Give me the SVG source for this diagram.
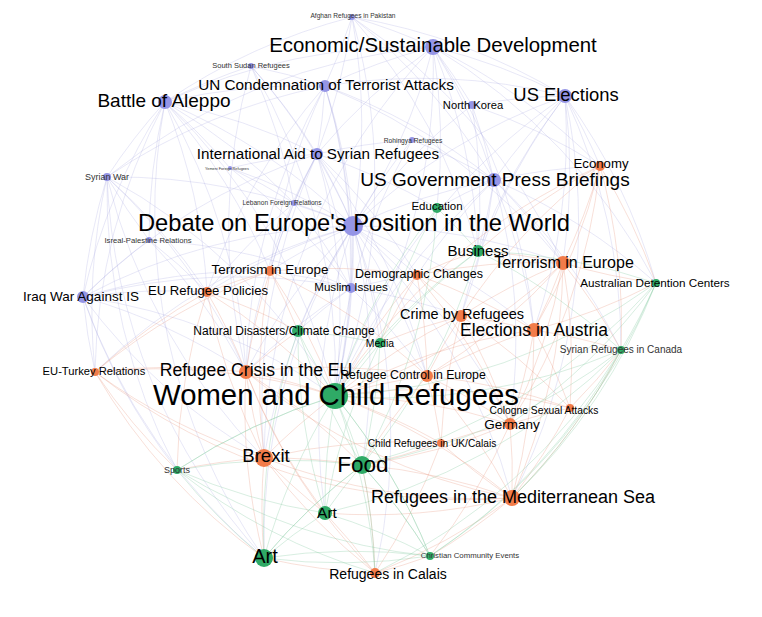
<svg xmlns="http://www.w3.org/2000/svg" width="762" height="617" viewBox="0 0 762 617">
<style>
text{font-family:"Liberation Sans",Arial,sans-serif;fill:#000;text-anchor:middle}
text.s{fill:#333}
.p{fill:#9595e6}
.o{fill:#f27c4a}
.g{fill:#2faa66}
#edges path{fill:none;stroke-width:0.6}
#ep path{stroke:#a8a8e2;stroke-opacity:0.45}
#eo path{stroke:#e8967e;stroke-opacity:0.5}
#eg path{stroke:#86cca2;stroke-opacity:0.55}
</style>
<rect width="762" height="617" fill="#fff"/>
<g id="edges">
<g id="ep">
<path d="M352 17A600 600 0 0 1 433 47"/><path d="M352 17A600 600 0 0 1 325 86"/><path d="M352 17A600 600 0 0 1 317 154"/><path d="M352 17A600 600 0 0 1 353 226"/><path d="M352 17A600 600 0 0 1 565 96"/><path d="M352 17A600 600 0 0 0 165 102"/><path d="M352 17A600 600 0 0 1 335 396"/><path d="M352 17A600 600 0 0 1 563 263"/><path d="M352 17A600 600 0 0 1 494 180"/><path d="M352 17A600 600 0 0 1 478 251"/>
<path d="M433 47A600 600 0 0 0 325 86"/><path d="M433 47A600 600 0 0 1 472 105"/><path d="M433 47A600 600 0 0 1 565 96"/><path d="M433 47A600 600 0 0 1 494 180"/><path d="M433 47A600 600 0 0 1 353 226"/><path d="M433 47A600 600 0 0 0 317 154"/><path d="M433 47A600 600 0 0 1 600 166"/><path d="M433 47A600 600 0 0 1 437 208"/><path d="M433 47A600 600 0 0 1 478 251"/><path d="M433 47A600 600 0 0 1 335 396"/><path d="M433 47A600 600 0 0 1 534 330"/><path d="M433 47A600 600 0 0 1 656 283"/><path d="M433 47A600 600 0 0 0 165 102"/><path d="M433 47A600 600 0 0 0 107 177"/><path d="M433 47A600 600 0 0 0 264 458"/>
<path d="M251 66A600 600 0 0 1 325 86"/><path d="M251 66A600 600 0 0 0 165 102"/><path d="M251 66A600 600 0 0 1 317 154"/><path d="M251 66A600 600 0 0 1 353 226"/><path d="M251 66A600 600 0 0 1 335 396"/><path d="M251 66A600 600 0 0 0 246 372"/><path d="M251 66A600 600 0 0 1 294 203"/>
<path d="M325 86A600 600 0 0 0 165 102"/><path d="M325 86A600 600 0 0 1 317 154"/><path d="M325 86A600 600 0 0 1 353 226"/><path d="M325 86A600 600 0 0 1 494 180"/><path d="M325 86A600 600 0 0 1 565 96"/><path d="M325 86A600 600 0 0 0 270 271"/><path d="M325 86A600 600 0 0 1 563 263"/><path d="M325 86A600 600 0 0 1 351 288"/><path d="M325 86A600 600 0 0 1 335 396"/><path d="M325 86A600 600 0 0 0 246 372"/><path d="M325 86A600 600 0 0 0 107 177"/><path d="M325 86A600 600 0 0 0 207 292"/>
<path d="M165 102A600 600 0 0 1 317 154"/><path d="M165 102A600 600 0 0 0 107 177"/><path d="M165 102A600 600 0 0 1 353 226"/><path d="M165 102A600 600 0 0 0 83 297"/><path d="M165 102A600 600 0 0 0 149 240"/><path d="M165 102A600 600 0 0 1 207 292"/><path d="M165 102A600 600 0 0 1 246 372"/><path d="M165 102A600 600 0 0 1 335 396"/><path d="M165 102A600 600 0 0 1 230 168"/><path d="M165 102A600 600 0 0 1 294 203"/><path d="M165 102A600 600 0 0 1 270 271"/><path d="M165 102A600 600 0 0 0 95 372"/><path d="M165 102A600 600 0 0 0 264 558"/>
<path d="M472 105A600 600 0 0 1 565 96"/><path d="M472 105A600 600 0 0 1 494 180"/><path d="M472 105A600 600 0 0 0 353 226"/><path d="M472 105A600 600 0 0 1 600 166"/><path d="M472 105A600 600 0 0 1 478 251"/>
<path d="M565 96A600 600 0 0 0 494 180"/><path d="M565 96A600 600 0 0 1 600 166"/><path d="M565 96A600 600 0 0 0 353 226"/><path d="M565 96A600 600 0 0 0 478 251"/><path d="M565 96A600 600 0 0 1 563 263"/><path d="M565 96A600 600 0 0 1 534 330"/><path d="M565 96A600 600 0 0 1 656 283"/><path d="M565 96A600 600 0 0 0 335 396"/><path d="M565 96A600 600 0 0 0 461 316"/><path d="M565 96A600 600 0 0 1 621 350"/><path d="M565 96A600 600 0 0 1 512 498"/>
<path d="M412 140A600 600 0 0 0 317 154"/><path d="M412 140A600 600 0 0 0 353 226"/><path d="M412 140A600 600 0 0 1 494 180"/><path d="M412 140A600 600 0 0 0 335 396"/>
<path d="M317 154A600 600 0 0 1 353 226"/><path d="M317 154A600 600 0 0 0 294 203"/><path d="M317 154A600 600 0 0 0 230 168"/><path d="M317 154A600 600 0 0 1 351 288"/><path d="M317 154A600 600 0 0 0 270 271"/><path d="M317 154A600 600 0 0 0 246 372"/><path d="M317 154A600 600 0 0 1 335 396"/><path d="M317 154A600 600 0 0 1 417 275"/><path d="M317 154A600 600 0 0 1 437 208"/><path d="M317 154A600 600 0 0 1 427 376"/><path d="M317 154A600 600 0 0 0 264 458"/><path d="M317 154A600 600 0 0 0 83 297"/>
<path d="M107 177A600 600 0 0 0 83 297"/><path d="M107 177A600 600 0 0 0 149 240"/><path d="M107 177A600 600 0 0 1 353 226"/><path d="M107 177A600 600 0 0 1 207 292"/><path d="M107 177A600 600 0 0 1 246 372"/><path d="M107 177A600 600 0 0 0 95 372"/><path d="M107 177A600 600 0 0 1 335 396"/><path d="M107 177A600 600 0 0 0 177 470"/><path d="M107 177A600 600 0 0 0 264 558"/><path d="M107 177A600 600 0 0 0 264 458"/>
<path d="M230 168A600 600 0 0 1 353 226"/><path d="M230 168A600 600 0 0 1 294 203"/><path d="M230 168A600 600 0 0 1 351 288"/>
<path d="M494 180A600 600 0 0 0 353 226"/><path d="M494 180A600 600 0 0 1 600 166"/><path d="M494 180A600 600 0 0 0 437 208"/><path d="M494 180A600 600 0 0 1 478 251"/><path d="M494 180A600 600 0 0 1 563 263"/><path d="M494 180A600 600 0 0 1 534 330"/><path d="M494 180A600 600 0 0 1 461 316"/><path d="M494 180A600 600 0 0 0 335 396"/><path d="M494 180A600 600 0 0 0 417 275"/><path d="M494 180A600 600 0 0 1 656 283"/><path d="M494 180A600 600 0 0 1 510 424"/><path d="M494 180A600 600 0 0 1 621 350"/>
<path d="M294 203A600 600 0 0 1 353 226"/><path d="M294 203A600 600 0 0 1 351 288"/><path d="M294 203A600 600 0 0 0 270 271"/><path d="M294 203A600 600 0 0 0 207 292"/>
<path d="M353 226A600 600 0 0 1 351 288"/><path d="M353 226A600 600 0 0 0 270 271"/><path d="M353 226A600 600 0 0 1 417 275"/><path d="M353 226A600 600 0 0 0 207 292"/><path d="M353 226A600 600 0 0 0 246 372"/><path d="M353 226A600 600 0 0 1 427 376"/><path d="M353 226A600 600 0 0 0 298 331"/><path d="M353 226A600 600 0 0 1 380 343"/><path d="M353 226A600 600 0 0 1 335 396"/><path d="M353 226A600 600 0 0 0 264 458"/><path d="M353 226A600 600 0 0 1 510 424"/><path d="M353 226A600 600 0 0 1 534 330"/><path d="M353 226A600 600 0 0 1 563 263"/><path d="M353 226A600 600 0 0 1 362 465"/><path d="M353 226A600 600 0 0 0 83 297"/><path d="M353 226A600 600 0 0 0 95 372"/><path d="M353 226A600 600 0 0 0 264 558"/><path d="M353 226A600 600 0 0 1 512 498"/><path d="M353 226A600 600 0 0 1 375 573"/><path d="M353 226A600 600 0 0 0 325 513"/>
<path d="M149 240A600 600 0 0 0 83 297"/><path d="M149 240A600 600 0 0 1 207 292"/><path d="M149 240A600 600 0 0 1 246 372"/><path d="M149 240A600 600 0 0 1 351 288"/>
<path d="M351 288A600 600 0 0 0 270 271"/><path d="M351 288A600 600 0 0 1 417 275"/><path d="M351 288A600 600 0 0 1 461 316"/><path d="M351 288A600 600 0 0 1 427 376"/><path d="M351 288A600 600 0 0 1 335 396"/><path d="M351 288A600 600 0 0 0 298 331"/><path d="M351 288A600 600 0 0 0 246 372"/>
<path d="M83 297A600 600 0 0 0 95 372"/><path d="M83 297A600 600 0 0 1 207 292"/><path d="M83 297A600 600 0 0 1 246 372"/><path d="M83 297A600 600 0 0 1 335 396"/><path d="M83 297A600 600 0 0 0 264 458"/><path d="M83 297A600 600 0 0 0 177 470"/><path d="M83 297A600 600 0 0 0 264 558"/><path d="M83 297A600 600 0 0 1 270 271"/><path d="M83 297A600 600 0 0 1 351 288"/>
</g>
<g id="eo">
<path d="M600 166A600 600 0 0 1 563 263"/><path d="M600 166A600 600 0 0 0 478 251"/><path d="M600 166A600 600 0 0 1 534 330"/><path d="M600 166A600 600 0 0 1 656 283"/><path d="M600 166A600 600 0 0 1 621 350"/><path d="M600 166A600 600 0 0 0 461 316"/><path d="M600 166A600 600 0 0 0 335 396"/><path d="M600 166A600 600 0 0 1 510 424"/>
<path d="M563 263A600 600 0 0 0 656 283"/><path d="M563 263A600 600 0 0 1 534 330"/><path d="M563 263A600 600 0 0 0 461 316"/><path d="M563 263A600 600 0 0 1 621 350"/><path d="M563 263A600 600 0 0 0 417 275"/><path d="M563 263A600 600 0 0 1 570 408"/><path d="M563 263A600 600 0 0 1 510 424"/><path d="M563 263A600 600 0 0 1 512 498"/><path d="M563 263A600 600 0 0 1 335 396"/><path d="M563 263A600 600 0 0 1 427 376"/><path d="M563 263A600 600 0 0 0 478 251"/>
<path d="M270 271A600 600 0 0 0 207 292"/><path d="M270 271A600 600 0 0 1 417 275"/><path d="M270 271A600 600 0 0 0 246 372"/><path d="M270 271A600 600 0 0 1 298 331"/><path d="M270 271A600 600 0 0 1 335 396"/><path d="M270 271A600 600 0 0 1 427 376"/><path d="M270 271A600 600 0 0 0 264 458"/><path d="M270 271A600 600 0 0 0 95 372"/>
<path d="M417 275A600 600 0 0 1 461 316"/><path d="M417 275A600 600 0 0 1 534 330"/><path d="M417 275A600 600 0 0 1 427 376"/><path d="M417 275A600 600 0 0 0 380 343"/><path d="M417 275A600 600 0 0 0 335 396"/><path d="M417 275A600 600 0 0 1 478 251"/><path d="M417 275A600 600 0 0 1 510 424"/>
<path d="M207 292A600 600 0 0 1 246 372"/><path d="M207 292A600 600 0 0 0 95 372"/><path d="M207 292A600 600 0 0 1 298 331"/><path d="M207 292A600 600 0 0 1 335 396"/><path d="M207 292A600 600 0 0 0 264 458"/><path d="M207 292A600 600 0 0 0 177 470"/>
<path d="M461 316A600 600 0 0 1 534 330"/><path d="M461 316A600 600 0 0 0 427 376"/><path d="M461 316A600 600 0 0 1 570 408"/><path d="M461 316A600 600 0 0 1 510 424"/><path d="M461 316A600 600 0 0 0 335 396"/><path d="M461 316A600 600 0 0 0 441 443"/><path d="M461 316A600 600 0 0 0 380 343"/>
<path d="M534 330A600 600 0 0 1 621 350"/><path d="M534 330A600 600 0 0 1 570 408"/><path d="M534 330A600 600 0 0 1 510 424"/><path d="M534 330A600 600 0 0 1 512 498"/><path d="M534 330A600 600 0 0 0 656 283"/><path d="M534 330A600 600 0 0 0 335 396"/><path d="M534 330A600 600 0 0 0 427 376"/>
<path d="M95 372A600 600 0 0 1 246 372"/><path d="M95 372A600 600 0 0 1 335 396"/><path d="M95 372A600 600 0 0 0 264 458"/><path d="M95 372A600 600 0 0 0 177 470"/><path d="M95 372A600 600 0 0 0 264 558"/><path d="M95 372A600 600 0 0 0 512 498"/>
<path d="M246 372A600 600 0 0 1 335 396"/><path d="M246 372A600 600 0 0 0 264 458"/><path d="M246 372A600 600 0 0 1 298 331"/><path d="M246 372A600 600 0 0 1 362 465"/><path d="M246 372A600 600 0 0 1 427 376"/><path d="M246 372A600 600 0 0 0 375 573"/><path d="M246 372A600 600 0 0 0 264 558"/><path d="M246 372A600 600 0 0 0 512 498"/><path d="M246 372A600 600 0 0 0 325 513"/>
<path d="M427 376A600 600 0 0 0 335 396"/><path d="M427 376A600 600 0 0 1 510 424"/><path d="M427 376A600 600 0 0 1 441 443"/><path d="M427 376A600 600 0 0 1 512 498"/><path d="M427 376A600 600 0 0 0 362 465"/><path d="M427 376A600 600 0 0 1 570 408"/>
<path d="M570 408A600 600 0 0 0 510 424"/><path d="M570 408A600 600 0 0 1 512 498"/><path d="M570 408A600 600 0 0 0 621 350"/><path d="M570 408A600 600 0 0 0 335 396"/>
<path d="M510 424A600 600 0 0 1 512 498"/><path d="M510 424A600 600 0 0 0 441 443"/><path d="M510 424A600 600 0 0 0 335 396"/><path d="M510 424A600 600 0 0 1 362 465"/><path d="M510 424A600 600 0 0 1 430 556"/>
<path d="M441 443A600 600 0 0 1 375 573"/><path d="M441 443A600 600 0 0 0 512 498"/><path d="M441 443A600 600 0 0 1 362 465"/><path d="M441 443A600 600 0 0 0 264 458"/><path d="M441 443A600 600 0 0 0 335 396"/>
<path d="M264 458A600 600 0 0 1 335 396"/><path d="M264 458A600 600 0 0 1 362 465"/><path d="M264 458A600 600 0 0 0 325 513"/><path d="M264 458A600 600 0 0 0 264 558"/><path d="M264 458A600 600 0 0 0 177 470"/><path d="M264 458A600 600 0 0 0 375 573"/><path d="M264 458A600 600 0 0 0 512 498"/>
<path d="M512 498A600 600 0 0 1 430 556"/><path d="M512 498A600 600 0 0 1 375 573"/><path d="M512 498A600 600 0 0 0 362 465"/><path d="M512 498A600 600 0 0 0 335 396"/><path d="M512 498A600 600 0 0 1 325 513"/><path d="M512 498A600 600 0 0 0 621 350"/>
<path d="M375 573A600 600 0 0 1 264 558"/><path d="M375 573A600 600 0 0 0 325 513"/><path d="M375 573A600 600 0 0 0 430 556"/><path d="M375 573A600 600 0 0 0 362 465"/>
</g>
<g id="eg">
<path d="M437 208A600 600 0 0 1 478 251"/><path d="M437 208A600 600 0 0 0 335 396"/><path d="M437 208A600 600 0 0 0 380 343"/><path d="M437 208A600 600 0 0 1 362 465"/>
<path d="M478 251A600 600 0 0 1 656 283"/><path d="M478 251A600 600 0 0 0 335 396"/><path d="M478 251A600 600 0 0 0 380 343"/><path d="M478 251A600 600 0 0 1 362 465"/><path d="M478 251A600 600 0 0 1 621 350"/>
<path d="M656 283A600 600 0 0 1 621 350"/><path d="M656 283A600 600 0 0 1 335 396"/><path d="M656 283A600 600 0 0 1 512 498"/><path d="M656 283A600 600 0 0 1 362 465"/><path d="M656 283A600 600 0 0 1 430 556"/><path d="M656 283A600 600 0 0 1 510 424"/>
<path d="M298 331A600 600 0 0 0 335 396"/><path d="M298 331A600 600 0 0 1 380 343"/><path d="M298 331A600 600 0 0 0 362 465"/><path d="M298 331A600 600 0 0 0 325 513"/><path d="M298 331A600 600 0 0 0 264 558"/>
<path d="M380 343A600 600 0 0 1 335 396"/><path d="M380 343A600 600 0 0 1 362 465"/><path d="M380 343A600 600 0 0 0 325 513"/>
<path d="M621 350A600 600 0 0 1 335 396"/><path d="M621 350A600 600 0 0 1 362 465"/><path d="M621 350A600 600 0 0 1 430 556"/><path d="M621 350A600 600 0 0 1 512 498"/><path d="M621 350A600 600 0 0 1 325 513"/><path d="M621 350A600 600 0 0 1 375 573"/>
<path d="M335 396A600 600 0 0 1 362 465"/><path d="M335 396A600 600 0 0 0 325 513"/><path d="M335 396A600 600 0 0 0 264 558"/><path d="M335 396A600 600 0 0 0 177 470"/><path d="M335 396A600 600 0 0 1 430 556"/><path d="M335 396A600 600 0 0 1 375 573"/>
<path d="M177 470A600 600 0 0 0 264 558"/><path d="M177 470A600 600 0 0 0 325 513"/><path d="M177 470A600 600 0 0 1 362 465"/><path d="M177 470A600 600 0 0 1 335 396"/><path d="M177 470A600 600 0 0 0 375 573"/><path d="M177 470A600 600 0 0 0 430 556"/>
<path d="M362 465A600 600 0 0 0 325 513"/><path d="M362 465A600 600 0 0 0 264 558"/><path d="M362 465A600 600 0 0 1 430 556"/><path d="M362 465A600 600 0 0 1 375 573"/>
<path d="M325 513A600 600 0 0 0 264 558"/><path d="M325 513A600 600 0 0 1 430 556"/>
<path d="M264 558A600 600 0 0 0 430 556"/><path d="M264 558A600 600 0 0 1 362 465"/>
<path d="M430 556A600 600 0 0 0 264 558"/><path d="M430 556A600 600 0 0 0 335 396"/><path d="M430 556A600 600 0 0 0 362 465"/>
</g>
</g>
<g id="nodes">
<g id="n-afghan"><circle class="p" cx="352" cy="17" r="3"/><text class="s" x="353" y="18" font-size="6.6">Afghan Refugees in Pakistan</text></g>
<g id="n-econdev"><circle class="p" cx="433" cy="47" r="8"/><text x="433" y="52" font-size="20.4">Economic/Sustainable Development</text></g>
<g id="n-ssudan"><circle class="p" cx="251" cy="66" r="3"/><text class="s" x="251" y="68" font-size="7.5">South Sudan Refugees</text></g>
<g id="n-un"><circle class="p" cx="325" cy="86" r="6"/><text x="326" y="90" font-size="15.3">UN Condemnation of Terrorist Attacks</text></g>
<g id="n-aleppo"><circle class="p" cx="165" cy="102" r="7"/><text x="164" y="107" font-size="19">Battle of Aleppo</text></g>
<g id="n-nkorea"><circle class="p" cx="472" cy="105" r="4"/><text x="473" y="109" font-size="11.2">North Korea</text></g>
<g id="n-uselec"><circle class="p" cx="565" cy="96" r="7"/><text x="566" y="101" font-size="18.4">US Elections</text></g>
<g id="n-rohingya"><circle class="p" cx="412" cy="140" r="3"/><text class="s" x="413" y="143" font-size="6.7">Rohingya Refugees</text></g>
<g id="n-intlaid"><circle class="p" cx="317" cy="154" r="6"/><text x="318" y="159" font-size="15.2">International Aid to Syrian Refugees</text></g>
<g id="n-syrwar"><circle class="p" cx="107" cy="177" r="4"/><text class="s" x="107" y="180" font-size="9">Syrian War</text></g>
<g id="n-tiny"><circle class="p" cx="230" cy="168" r="2"/><text class="s" x="227" y="170" font-size="3.8">Yemeni Foreign Refugees</text></g>
<g id="n-usgov"><circle class="p" cx="494" cy="180" r="7"/><text x="495" y="186" font-size="19">US Government Press Briefings</text></g>
<g id="n-lebanon"><circle class="p" cx="294" cy="203" r="3"/><text class="s" x="282" y="205" font-size="6.6">Lebanon Foreign Relations</text></g>
<g id="n-debate"><circle class="p" cx="353" cy="226" r="10"/><text x="354" y="231" font-size="23.7">Debate on Europe's Position in the World</text></g>
<g id="n-isreal"><circle class="p" cx="149" cy="240" r="3"/><text class="s" x="148" y="243" font-size="7.7">Isreal-Palestine Relations</text></g>
<g id="n-muslim"><circle class="p" cx="351" cy="288" r="5"/><text x="351" y="291" font-size="11.6">Muslim Issues</text></g>
<g id="n-iraq"><circle class="p" cx="83" cy="297" r="6"/><text x="81" y="301" font-size="13.5">Iraq War Against IS</text></g>
<g id="n-economy"><circle class="o" cx="600" cy="166" r="5"/><text x="601" y="168" font-size="13.2">Economy</text></g>
<g id="n-terr-r"><circle class="o" cx="563" cy="263" r="7"/><text x="564" y="268" font-size="16">Terrorism in Europe</text></g>
<g id="n-terr-l"><circle class="o" cx="270" cy="271" r="5"/><text x="270" y="274" font-size="13.4">Terrorism in Europe</text></g>
<g id="n-demo"><circle class="o" cx="417" cy="275" r="5"/><text x="419" y="278" font-size="12.5">Demographic Changes</text></g>
<g id="n-eupol"><circle class="o" cx="207" cy="292" r="5"/><text x="208" y="295" font-size="13.1">EU Refugee Policies</text></g>
<g id="n-edu"><circle class="g" cx="437" cy="208" r="5"/><text x="437" y="210" font-size="11.5">Education</text></g>
<g id="n-business"><circle class="g" cx="478" cy="251" r="6"/><text x="478" y="256" font-size="15">Business</text></g>
<g id="n-austr"><circle class="g" cx="656" cy="283" r="4"/><text x="655" y="287" font-size="11.7">Australian Detention Centers</text></g>
<g id="n-crime"><circle class="o" cx="461" cy="316" r="6"/><text x="462" y="319" font-size="14.5">Crime by Refugees</text></g>
<g id="n-elecaus"><circle class="o" cx="534" cy="330" r="7"/><text x="534" y="336" font-size="17.5">Elections in Austria</text></g>
<g id="n-natdis"><circle class="g" cx="298" cy="331" r="6"/><text x="284" y="335" font-size="12">Natural Disasters/Climate Change</text></g>
<g id="n-media"><circle class="g" cx="380" cy="343" r="5"/><text x="380" y="347" font-size="10.4">Media</text></g>
<g id="n-syrcan"><circle class="g" cx="621" cy="350" r="4"/><text class="s" x="621" y="353" font-size="10">Syrian Refugees in Canada</text></g>
<g id="n-euturk"><circle class="o" cx="95" cy="372" r="4"/><text x="94" y="375" font-size="11.2">EU-Turkey Relations</text></g>
<g id="n-crisis"><circle class="o" cx="246" cy="372" r="7"/><text x="256" y="376" font-size="17.6">Refugee Crisis in the EU</text></g>
<g id="n-control"><circle class="o" cx="427" cy="376" r="6"/><text x="413" y="379" font-size="12.3">Refugee Control in Europe</text></g>
<g id="n-women"><circle class="g" cx="335" cy="396" r="13"/><text x="336" y="405" font-size="29.3">Women and Child Refugees</text></g>
<g id="n-cologne"><circle class="o" cx="570" cy="408" r="4"/><text x="544" y="414" font-size="10.3">Cologne Sexual Attacks</text></g>
<g id="n-germany"><circle class="o" cx="510" cy="424" r="6"/><text x="512" y="429" font-size="13.5">Germany</text></g>
<g id="n-child"><circle class="o" cx="441" cy="443" r="4"/><text x="432" y="447" font-size="10.2">Child Refugees in UK/Calais</text></g>
<g id="n-brexit"><circle class="o" cx="264" cy="458" r="9"/><text x="266" y="462" font-size="18.6">Brexit</text></g>
<g id="n-sports"><circle class="g" cx="177" cy="470" r="4"/><text class="s" x="177" y="473" font-size="9">Sports</text></g>
<g id="n-food"><circle class="g" cx="362" cy="465" r="9"/><text x="363" y="472" font-size="22.5">Food</text></g>
<g id="n-med"><circle class="o" cx="512" cy="498" r="8"/><text x="513" y="503" font-size="18">Refugees in the Mediterranean Sea</text></g>
<g id="n-art1"><circle class="g" cx="325" cy="513" r="7"/><text x="327" y="518" font-size="15.5">Art</text></g>
<g id="n-art2"><circle class="g" cx="264" cy="558" r="9"/><text x="265" y="563" font-size="20">Art</text></g>
<g id="n-christian"><circle class="g" cx="430" cy="556" r="4"/><text class="s" x="470" y="558" font-size="7.8">Christian Community Events</text></g>
<g id="n-calais"><circle class="o" cx="375" cy="573" r="5"/><text x="388" y="579" font-size="14">Refugees in Calais</text></g>
</g>
</svg>
